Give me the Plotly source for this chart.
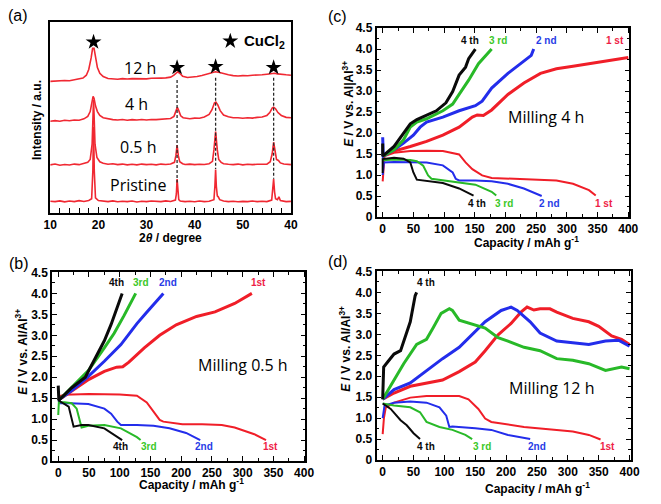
import plotly.graph_objects as go

W, H = 661, 504

# ---------------- Panel (a): XRD ----------------
xrd_ticks = [10, 20, 30, 40, 50, 60]
xrd_ticktext = ["10", "20", "30", "40", "50", "40"]

tt_pristine = [10, 11, 12, 13, 14, 15, 16, 17, 18, 18.6, 18.85, 19.0, 19.15, 19.4, 20, 21, 22, 23, 24, 25, 26, 27, 28,
               29, 30, 31, 32, 33, 34, 35, 36.0, 36.2, 36.35, 36.5, 36.7, 37, 38, 39, 40, 41, 42, 43, 44.0, 44.2, 44.35,
               44.5, 44.7, 44.9, 45.2, 46, 47, 48, 49, 50, 51, 52, 53, 54, 55, 56.0, 56.2, 56.4, 56.6, 56.8, 57.2, 57.5,
               57.8, 58.5, 59, 60]
int_pristine = [6.2, 6.0, 6.4, 5.9, 6.3, 6.0, 6.5, 6.1, 6.6, 7.5, 22, 45, 22, 8, 6.6, 6.2, 6.0, 6.4, 5.9, 6.2, 6.0, 6.3,
                5.8, 6.2, 6.0, 6.3, 6.1, 6.0, 6.4, 6.1, 6.8, 10, 17.8, 10, 7, 6.3, 6.0, 6.2, 5.9, 6.3, 6.0, 6.2, 7, 14,
                22.8, 14, 9, 8.5, 7, 6.3, 6.0, 6.2, 5.9, 6.1, 6.0, 6.3, 6.0, 6.2, 6.0, 6.8, 11, 17.8, 11, 7.5, 7, 8.5,
                6.6, 6.2, 6.0, 6.1]

tt_05h = [10, 11, 12, 13, 14, 15, 16, 17, 17.8, 18.3, 18.7, 18.9, 19.0, 19.1, 19.3, 19.7, 20.3, 21, 22, 23, 24, 25, 26,
          27, 28, 29, 30, 31, 32, 33, 34, 35, 35.8, 36.1, 36.35, 36.6, 36.9, 37.5, 38, 39, 40, 41, 42, 43, 43.7, 44.0,
          44.35, 44.7, 45.0, 45.5, 46, 47, 48, 49, 50, 51, 52, 53, 54, 55, 55.7, 56.1, 56.4, 56.7, 57.0, 57.4, 57.8,
          58.5, 59, 60]
int_05h = [25.2, 25.6, 25.0, 25.4, 25.1, 25.6, 25.3, 25.8, 26.5, 28, 36, 52, 59, 52, 36, 29, 26.8, 26, 25.5, 25.8, 25.3,
           25.6, 25.2, 25.5, 25.2, 25.6, 25.3, 25.5, 25.2, 25.6, 25.4, 25.6, 26.5, 30, 35.5, 30, 26.8, 25.8, 25.4, 25.6,
           25.3, 25.5, 25.4, 25.8, 27, 33, 42.6, 33, 28, 26.5, 25.8, 25.5, 25.3, 25.6, 25.2, 25.5, 25.3, 25.5, 25.4,
           25.6, 26.8, 31, 37, 31, 28, 27.5, 26.2, 25.6, 25.4, 25.3]

tt_4h = [10, 11, 12, 13, 14, 15, 16, 17, 17.8, 18.3, 18.6, 18.9, 19.1, 19.4, 19.8, 20.3, 21, 22, 23, 24, 25, 26, 27, 28,
         29, 30, 31, 32, 33, 34, 35, 35.7, 36.1, 36.4, 36.7, 37.1, 37.6, 38.5, 39, 40, 41, 42, 43, 43.6, 44.1, 44.4,
         44.8, 45.3, 46, 47, 48, 49, 50, 51, 52, 53, 54, 55, 55.6, 56.1, 56.4, 56.8, 57.3, 58, 58.6, 59, 60]
int_4h = [48.0, 48.3, 48.0, 48.5, 48.2, 48.6, 48.5, 49.2, 50.5, 53, 57, 61, 60, 56, 53, 51, 49.8, 49.2, 48.8, 48.6, 48.9,
          48.5, 48.8, 48.6, 48.9, 48.6, 48.9, 48.8, 49.0, 49.0, 49.4, 50.5, 53.5, 55.3, 53.5, 50.8, 49.8, 49.5, 49.3,
          49.6, 49.5, 50.2, 51.5, 54, 57.5, 58, 56.5, 53.5, 51.2, 50.3, 49.8, 49.8, 49.5, 49.8, 49.6, 50, 50.2, 51,
          52.5, 54.8, 55.3, 54.5, 52.5, 51, 50.3, 50, 49.8]

tt_12h = [10, 11, 12, 13, 14, 15, 16, 16.8, 17.5, 18.0, 18.5, 18.8, 19.1, 19.4, 19.8, 20.3, 21, 22, 23, 24, 25, 26, 27,
          28, 29, 30, 31, 32, 33, 34, 35, 35.7, 36.2, 36.5, 36.9, 37.5, 38.5, 39.5, 40.5, 41.5, 42.5, 43.5, 44.3, 45.2,
          46, 47, 48, 49, 50, 51, 52, 53, 54, 55, 56, 56.6, 57.2, 58, 59, 60]
int_12h = [68.8, 69.0, 68.9, 69.2, 69.1, 69.5, 69.8, 70.5, 72, 75, 81, 86, 86, 81, 76, 73, 71.3, 70.3, 70, 69.9, 70.2,
           70, 70.2, 70.1, 70.3, 70.1, 70.4, 70.3, 70.5, 70.6, 71, 72, 73.5, 73.8, 73, 71.5, 70.8, 70.9, 71.3, 71.8,
           72.6, 73.2, 73.8, 73.4, 72.8, 72.2, 71.8, 71.6, 71.8, 71.7, 72.0, 72.0, 72.2, 72.5, 72.8, 73.0, 72.7, 72.3,
           72.2, 72.0]

star_x = [19.0, 36.35, 44.35, 56.4]
star_y = [89.3, 76.0, 76.5, 76.0]
dash_x = [36.35, 44.35, 56.4]
dash_top = [69.5, 70.7, 70.7]
dash_bottom = [16.0, 23.0, 18.0]
xrd_labels = ["12 h", "4 h", "0.5 h", "Pristine"]
xrd_label_x = [28.6, 27.9, 28.3, 28.3]
xrd_label_y = [76.0, 57.0, 34.5, 14.8]

# ---------------- Panel (b): Milling 0.5 h ----------------
b_chg1_x = [0, 10, 25, 50, 75, 95, 105, 115, 140, 165, 192, 225, 255, 287, 315]
b_chg1_y = [1.45, 1.55, 1.70, 1.95, 2.14, 2.24, 2.25, 2.36, 2.70, 3.00, 3.25, 3.45, 3.56, 3.76, 4.0]
b_dis1_x = [0, 3, 10, 50, 100, 128, 144, 155, 165, 171, 202, 234, 266, 287, 319, 338]
b_dis1_y = [1.45, 1.55, 1.58, 1.60, 1.59, 1.56, 1.40, 1.17, 0.98, 0.94, 0.88, 0.875, 0.86, 0.80, 0.64, 0.50]
b_chg2_x = [0, 10, 22, 49, 75, 102, 118, 128, 144, 160, 171]
b_chg2_y = [1.45, 1.55, 1.68, 2.02, 2.38, 2.78, 3.08, 3.28, 3.55, 3.82, 4.0]
b_dis2_x = [0, 3, 20, 49, 75, 86, 96, 102, 128, 155, 181, 208, 231]
b_dis2_y = [1.45, 1.38, 1.38, 1.36, 1.25, 1.13, 0.94, 0.86, 0.86, 0.84, 0.78, 0.67, 0.50]
b_chg3_x = [0, 10, 22, 49, 75, 91, 107, 118, 126]
b_chg3_y = [1.45, 1.58, 1.76, 2.16, 2.70, 3.05, 3.47, 3.76, 4.0]
b_dis3_x = [0, 1, 10, 22, 30, 35, 38, 49, 75, 102, 128, 134]
b_dis3_y = [1.1, 1.40, 1.40, 1.38, 1.25, 0.95, 0.80, 0.84, 0.86, 0.78, 0.57, 0.50]
b_chg4_x = [0, 1, 10, 22, 44, 60, 75, 86, 96, 104]
b_chg4_y = [1.80, 1.45, 1.58, 1.75, 2.00, 2.45, 2.87, 3.26, 3.65, 4.0]
b_dis4_x = [0, 8, 17, 22, 25, 38, 49, 75, 96, 104]
b_dis4_y = [1.45, 1.38, 1.30, 1.00, 0.82, 0.86, 0.86, 0.78, 0.59, 0.50]

# ---------------- Panel (c): Milling 4 h ----------------
c_chg1_x = [0, 18.5, 45, 71.5, 98, 124.5, 146, 154, 164, 177.5, 204, 230, 257, 283, 310, 336, 363, 400]
c_chg1_y = [1.45, 1.57, 1.68, 1.80, 1.95, 2.14, 2.38, 2.43, 2.42, 2.55, 2.92, 3.19, 3.42, 3.53, 3.59, 3.65, 3.70, 3.80]
c_dis1_x = [0, 3, 18.5, 45, 71.5, 98, 124.5, 135, 146, 162, 177.5, 230, 283, 310, 336, 347]
c_dis1_y = [0.85, 1.45, 1.53, 1.57, 1.58, 1.57, 1.49, 1.30, 1.14, 0.99, 0.93, 0.90, 0.87, 0.79, 0.64, 0.51]
c_chg2_x = [0, 1, 18.5, 34, 50, 61, 71.5, 98, 124.5, 151, 162, 177.5, 204, 220, 236, 242, 246]
c_chg2_y = [1.9, 1.45, 1.60, 1.76, 1.95, 2.14, 2.26, 2.38, 2.53, 2.65, 2.76, 3.07, 3.42, 3.61, 3.78, 3.85, 4.0]
c_dis2_x = [0, 2, 18.5, 45, 71.5, 98, 114, 119, 124.5, 151, 177.5, 204, 230, 259]
c_dis2_y = [1.0, 1.30, 1.31, 1.31, 1.30, 1.23, 1.06, 0.91, 0.87, 0.87, 0.85, 0.79, 0.68, 0.50]
c_chg3_x = [0, 18.5, 34, 45, 55.6, 71.5, 98, 114, 124.5, 140, 156, 167, 177.5]
c_chg3_y = [1.45, 1.60, 1.84, 2.14, 2.26, 2.34, 2.53, 2.69, 2.92, 3.26, 3.65, 3.84, 4.0]
c_dis3_x = [0, 18.5, 45, 55.6, 66, 74, 79.5, 98, 124.5, 151, 177.5, 185]
c_dis3_y = [1.35, 1.37, 1.36, 1.33, 1.22, 0.99, 0.91, 0.87, 0.83, 0.77, 0.60, 0.51]
c_chg4_x = [0, 0, 18.5, 34, 45, 55.6, 71.5, 87.4, 103, 114, 124.5, 135, 140, 151]
c_chg4_y = [1.75, 1.45, 1.68, 1.99, 2.22, 2.32, 2.42, 2.53, 2.72, 2.99, 3.38, 3.57, 3.77, 4.0]
c_dis4_x = [0, 0, 18.5, 34, 45, 50, 55.6, 71.5, 98, 124.5, 148]
c_dis4_y = [1.05, 1.38, 1.41, 1.39, 1.30, 1.06, 0.89, 0.86, 0.81, 0.68, 0.51]

# ---------------- Panel (d): Milling 12 h ----------------
d_chg1_x = [0, 18.4, 44.7, 71, 97, 124, 150, 166, 187, 208, 224, 234, 245, 255, 271, 282, 308, 334, 350, 371, 387, 400]
d_chg1_y = [1.45, 1.60, 1.76, 1.84, 1.91, 2.11, 2.34, 2.61, 2.99, 3.26, 3.53, 3.65, 3.58, 3.61, 3.61, 3.53, 3.38,
            3.30, 3.19, 2.96, 2.88, 2.76]
d_dis1_x = [0, 2, 5, 18.4, 44.7, 71, 124, 139, 155, 166, 176, 203, 229, 282, 308, 334, 353]
d_dis1_y = [0.62, 1.0, 1.25, 1.37, 1.49, 1.53, 1.53, 1.45, 1.22, 0.99, 0.91, 0.85, 0.79, 0.72, 0.68, 0.60, 0.49]
d_chg2_x = [0, 18.4, 44.7, 71, 97, 124, 145, 166, 192, 208, 218, 239, 255, 282, 308, 334, 361, 382, 400]
d_chg2_y = [1.45, 1.68, 1.84, 2.14, 2.42, 2.69, 2.99, 3.30, 3.57, 3.65, 3.57, 3.30, 3.03, 2.84, 2.80, 2.76, 2.84,
            2.86, 2.72]
d_dis2_x = [0, 3, 18.4, 44.7, 71, 92, 103, 108, 113, 124, 150, 176, 203, 239]
d_dis2_y = [1.0, 1.30, 1.37, 1.40, 1.37, 1.26, 1.06, 0.79, 0.80, 0.79, 0.76, 0.72, 0.60, 0.50]
d_chg3_x = [0, 18.4, 34, 55, 71, 81.6, 94.7, 108, 113, 124, 150, 166, 187, 203, 229, 255, 282, 308, 334, 361, 387, 400]
d_chg3_y = [1.45, 1.91, 2.30, 2.76, 2.88, 3.15, 3.50, 3.61, 3.57, 3.34, 3.23, 3.15, 2.92, 2.84, 2.69, 2.61, 2.42,
            2.38, 2.30, 2.14, 2.22, 2.18]
d_dis3_x = [0, 18.4, 44.7, 60.5, 71, 92, 113, 134, 145]
d_dis3_y = [1.35, 1.30, 1.26, 1.14, 0.91, 0.79, 0.72, 0.60, 0.50]
d_chg4_x = [0, 1.6, 8, 18.4, 29, 34, 44.7, 52.6, 55]
d_chg4_y = [1.45, 2.22, 2.34, 2.53, 2.61, 2.84, 3.30, 3.92, 4.0]
d_dis4_x = [0, 13, 29, 39, 50, 60.5]
d_dis4_y = [1.35, 1.22, 0.95, 0.83, 0.64, 0.50]

cap_ticks = [0, 50, 100, 150, 200, 250, 300, 350, 400]
volt_ticks = [0, 0.5, 1.0, 1.5, 2.0, 2.5, 3.0, 3.5, 4.0, 4.5]
volt_ticktext = ["0", "0.5", "1.0", "1.5", "2.0", "2.5", "3.0", "3.5", "4.0", "4.5"]

RED = "rgb(240,30,40)"
BLUE = "rgb(35,45,235)"
GREEN = "rgb(40,185,40)"
BLACK = "rgb(10,10,10)"
RED_T = "rgb(238,30,70)"
BLUE_T = "rgb(40,60,230)"
GREEN_T = "rgb(60,200,40)"

CHG_W = 3.0
DIS_W = 2.0

fig = go.Figure()

# ---- XRD traces
for xs, ys in [(tt_pristine, int_pristine), (tt_05h, int_05h), (tt_4h, int_4h), (tt_12h, int_12h)]:
    fig.add_trace(go.Scatter(x=xs, y=ys, mode="lines", line=dict(color="rgb(240,40,50)", width=1.6),
                             xaxis="x", yaxis="y", showlegend=False, hoverinfo="skip"))
for dx, dt, db in zip(dash_x, dash_top, dash_bottom):
    fig.add_trace(go.Scatter(x=[dx, dx], y=[dt, db], mode="lines",
                             line=dict(color="rgb(40,40,40)", width=1.3, dash="3px,2px"),
                             xaxis="x", yaxis="y", showlegend=False, hoverinfo="skip"))
fig.add_trace(go.Scatter(x=star_x, y=star_y, mode="markers",
                         marker=dict(symbol="star", size=12, color="black"),
                         xaxis="x", yaxis="y", showlegend=False, hoverinfo="skip"))
fig.add_trace(go.Scatter(x=[47.4], y=[89.8], mode="markers",
                         marker=dict(symbol="star", size=12, color="black"),
                         xaxis="x", yaxis="y", showlegend=False, hoverinfo="skip"))

# ---- Electrochemistry traces
panels = {
    "2": [(b_chg1_x, b_chg1_y, RED, CHG_W), (b_dis1_x, b_dis1_y, RED, DIS_W),
          (b_chg2_x, b_chg2_y, BLUE, CHG_W), (b_dis2_x, b_dis2_y, BLUE, DIS_W),
          (b_chg3_x, b_chg3_y, GREEN, CHG_W), (b_dis3_x, b_dis3_y, GREEN, DIS_W),
          (b_chg4_x, b_chg4_y, BLACK, CHG_W), (b_dis4_x, b_dis4_y, BLACK, DIS_W)],
    "3": [(c_chg1_x, c_chg1_y, RED, CHG_W), (c_dis1_x, c_dis1_y, RED, DIS_W),
          (c_chg2_x, c_chg2_y, BLUE, CHG_W), (c_dis2_x, c_dis2_y, BLUE, DIS_W),
          (c_chg3_x, c_chg3_y, GREEN, CHG_W), (c_dis3_x, c_dis3_y, GREEN, DIS_W),
          (c_chg4_x, c_chg4_y, BLACK, CHG_W), (c_dis4_x, c_dis4_y, BLACK, DIS_W)],
    "4": [(d_chg1_x, d_chg1_y, RED, CHG_W), (d_dis1_x, d_dis1_y, RED, DIS_W),
          (d_chg2_x, d_chg2_y, BLUE, CHG_W), (d_dis2_x, d_dis2_y, BLUE, DIS_W),
          (d_chg3_x, d_chg3_y, GREEN, CHG_W), (d_dis3_x, d_dis3_y, GREEN, DIS_W),
          (d_chg4_x, d_chg4_y, BLACK, CHG_W), (d_dis4_x, d_dis4_y, BLACK, DIS_W)],
}
for k, curves in panels.items():
    for xs, ys, col, w in curves:
        fig.add_trace(go.Scatter(x=xs, y=ys, mode="lines", line=dict(color=col, width=w),
                                 xaxis="x" + k, yaxis="y" + k, showlegend=False, hoverinfo="skip"))


def px_dom_x(a, b):
    return [a / W, b / W]


def px_dom_y(top, bottom):
    return [1 - bottom / H, 1 - top / H]


def bold(labels):
    return ["<b>%s</b>" % s for s in labels]


TICKFONT = dict(family="Liberation Sans", size=12, color="black")


def cap_x(dom, anchor):
    return dict(domain=dom, anchor=anchor, range=[-10, 402], tickmode="array", tickvals=cap_ticks,
                ticktext=bold([str(v) for v in cap_ticks]),
                showline=True, linecolor="black", linewidth=1.6, mirror="allticks", ticks="inside",
                ticklen=5, tickwidth=1.4, tickcolor="black", showgrid=False, zeroline=False,
                tickfont=TICKFONT, minor=dict(ticks="inside", tick0=0, dtick=25, ticklen=3, tickwidth=1.2,
                                             tickcolor="black", showgrid=False))


def volt_y(dom, anchor):
    return dict(domain=dom, anchor=anchor, range=[0, 4.5], tickmode="array", tickvals=volt_ticks,
                ticktext=bold(volt_ticktext), showline=True, linecolor="black", linewidth=1.6, mirror="allticks",
                ticks="inside", ticklen=5, tickwidth=1.4, tickcolor="black", showgrid=False, zeroline=False,
                tickfont=TICKFONT, minor=dict(ticks="inside", tick0=0, dtick=0.25, ticklen=3, tickwidth=1.2,
                                             tickcolor="black", showgrid=False))


fig.update_layout(
    width=W, height=H, margin=dict(l=0, r=0, t=0, b=0),
    paper_bgcolor="white", plot_bgcolor="white",
    xaxis=dict(domain=px_dom_x(44.3, 291), anchor="y", range=[10, 60], tickmode="array", tickvals=xrd_ticks,
               ticktext=bold(xrd_ticktext), showline=True, linecolor="black", linewidth=1.6, mirror=True,
               ticks="inside", ticklen=6, tickwidth=1.4, tickcolor="black", showgrid=False, zeroline=False,
               tickfont=TICKFONT, minor=dict(ticks="inside", tick0=10, dtick=2, ticklen=5, tickwidth=1.3,
                                            tickcolor="black", showgrid=False)),
    yaxis=dict(domain=px_dom_y(15, 212), anchor="x", range=[0, 100], showticklabels=False, ticks="",
               showline=True, linecolor="black", linewidth=1.6, mirror=True, showgrid=False, zeroline=False),
    xaxis2=cap_x(px_dom_x(52.5 - 10 * 0.63, 52.5 + 402 * 0.63), "y2"),
    yaxis2=volt_y(px_dom_y(467 - 4.5 * 43.1, 467), "x2"),
    xaxis3=cap_x(px_dom_x(385 - 10 * 0.6292, 385 + 402 * 0.6292), "y3"),
    yaxis3=volt_y(px_dom_y(216 - 4.5 * 43.18, 216), "x3"),
    xaxis4=cap_x(px_dom_x(385 - 10 * 0.6325, 385 + 402 * 0.6325), "y4"),
    yaxis4=volt_y(px_dom_y(466 - 4.5 * 43.1, 466), "x4"),
)

ann = []


def paper_text(text, px, py, size, bold=False, angle=0, family="Liberation Sans", color="black"):
    f = dict(family=family, size=size, color=color)
    if bold:
        text = "<b>%s</b>" % text
    ann.append(dict(text=text, x=px / W, y=1 - py / H, xref="paper", yref="paper", showarrow=False,
                    xanchor="center", yanchor="middle", textangle=angle, font=f))


def data_text(text, x, y, k, size, color, family="Liberation Sans", xanchor="center"):
    f = dict(family=family, size=size, color=color)
    ann.append(dict(text="<b>%s</b>" % text, x=x, y=y, xref="x" + k, yref="y" + k, showarrow=False,
                    xanchor=xanchor, yanchor="middle", font=f))


# panel letters
paper_text("(a)", 11, 9, 16)
paper_text("(b)", 12, 264, 16)
paper_text("(c)", 339, 10, 16)
paper_text("(d)", 339, 262, 16)

# axis titles
paper_text("Intensity / a.u.", 31, 116, 12, bold=True, angle=-90)
paper_text("2<i>θ</i> / degree", 168, 238, 12, bold=True)
paper_text("<i>E</i> / V vs. Al/Al<sup>3+</sup>", 15, 355, 12, bold=True, angle=-90)
paper_text("Capacity / mAh g<sup>-1</sup>", 189, 491, 12, bold=True)
paper_text("<i>E</i> / V vs. Al|Al<sup>3+</sup>", 350, 100, 12, bold=True, angle=-90)
paper_text("Capacity / mAh g<sup>-1</sup>", 532, 242, 12, bold=True)
paper_text("<i>E</i> / V vs. Al/Al<sup>3+</sup>", 347, 352, 12, bold=True, angle=-90)
paper_text("Capacity / mAh g<sup>-1</sup>", 544, 495, 12, bold=True)

# XRD labels
for t, lx, ly in zip(xrd_labels, xrd_label_x, xrd_label_y):
    ann.append(dict(text=t, x=lx, y=ly, xref="x", yref="y", showarrow=False, xanchor="center", yanchor="middle",
                    font=dict(family="Open Sans", size=16, color="black")))
ann.append(dict(text="<b>CuCl<sub>2</sub></b>", x=49.8, y=89.6, xref="x", yref="y", showarrow=False, xanchor="left",
                yanchor="middle", font=dict(family="Liberation Sans", size=15, color="black")))

# panel (b) labels
for t, x, y, c in [("4th", 94, 4.27, BLACK), ("3rd", 134, 4.27, GREEN_T), ("2nd", 179, 4.27, BLUE_T),
                   ("1st", 326, 4.27, RED_T), ("4th", 102, 0.35, BLACK), ("3rd", 147, 0.35, GREEN_T),
                   ("2nd", 237, 0.35, BLUE_T), ("1st", 345, 0.35, RED_T)]:
    data_text(t, x, y, "2", 10, c)
ann.append(dict(text="Milling 0.5 h", x=300, y=2.29, xref="x2", yref="y2", showarrow=False,
                font=dict(family="Open Sans", size=16, color="black")))

# panel (c) labels
for t, x, y, c in [("4 th", 143, 4.21, BLACK), ("3 rd", 188, 4.21, GREEN_T), ("2 nd", 267, 4.21, BLUE_T),
                   ("1 st", 379, 4.21, RED_T), ("4 th", 153, 0.33, BLACK), ("3 rd", 198, 0.33, GREEN_T),
                   ("2 nd", 272, 0.33, BLUE_T), ("1 st", 361, 0.33, RED_T)]:
    data_text(t, x, y, "3", 10, c)
ann.append(dict(text="Milling 4 h", x=266.5, y=2.39, xref="x3", yref="y3", showarrow=False,
                font=dict(family="Open Sans", size=16, color="black")))

# panel (d) labels
for t, x, y, c in [("4 th", 71, 4.24, BLACK), ("1st", 419, 2.85, RED_T), ("2nd", 419, 2.58, BLUE_T),
                   ("3 rd", 421.5, 2.16, GREEN_T), ("4 th", 71, 0.33, BLACK), ("3 rd", 161, 0.33, GREEN_T),
                   ("2nd", 250, 0.33, BLUE_T), ("1st", 364, 0.33, RED_T)]:
    data_text(t, x, y, "4", 10, c)
ann.append(dict(text="Milling 12 h", x=274, y=1.72, xref="x4", yref="y4", showarrow=False,
                font=dict(family="Open Sans", size=16, color="black")))

fig.update_layout(annotations=ann)
fig.write_html("out.html")
